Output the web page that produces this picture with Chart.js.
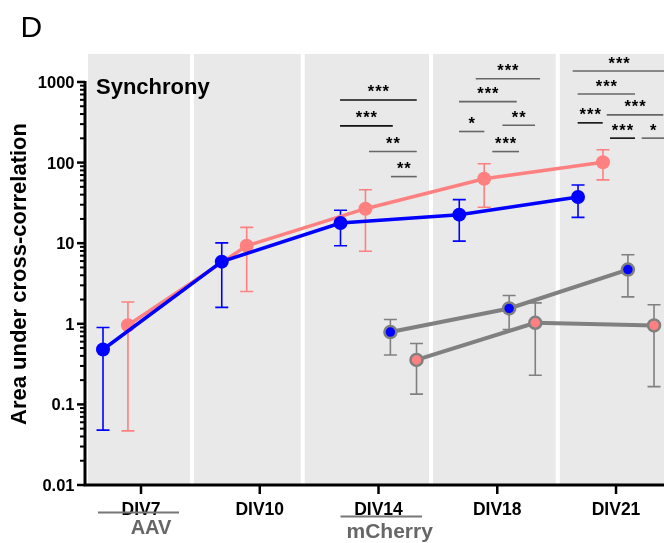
<!DOCTYPE html>
<html>
<head>
<meta charset="utf-8">
<script src="https://cdn.jsdelivr.net/npm/chart.js@4.4.1/dist/chart.umd.min.js"></script>
<style>
  html, body { margin: 0; padding: 0; background: #fff; }
  canvas { display: block; }
</style>
</head>
<body>
<canvas id="myChart" width="664" height="543"></canvas>
<script>
// categories and tick labels
const categories = ['DIV7', 'DIV10', 'DIV14', 'DIV18', 'DIV21'];
const yTicks = [0.01, 0.1, 1, 10, 100, 1000];
const yTickLabels = ['0.01', '0.1', '1', '10', '100', '1000'];

// AAV, blue
const aavBlue   = [0.48, 5.9, 17.8, 22.6, 37.4];
const aavBlueLo = [0.048, 1.6, 9.3, 10.6, 20.9];
const aavBlueHi = [0.9, 10.1, 25.6, 34.7, 52.6];
// AAV, pink
const aavPink   = [0.96, 9.3, 26.8, 63, 101];
const aavPinkLo = [0.047, 2.52, 7.96, 27.9, 61];
const aavPinkHi = [1.86, 15.7, 46, 96.6, 144];
// mCherry, blue
const mchBlue   = [null, null, 0.79, 1.55, 4.7];
const mchBlueLo = [null, null, 0.41, 0.85, 2.16];
const mchBlueHi = [null, null, 1.13, 2.24, 7.2];
// mCherry, pink
const mchPink   = [null, null, 0.356, 1.03, 0.955];
const mchPinkLo = [null, null, 0.134, 0.23, 0.166];
const mchPinkHi = [null, null, 0.57, 1.82, 1.72];

// significance brackets (x in category units, y in data units)
const sigMarks = [
  { from: 1.676, to: 2.322, y: 598, text: '***', dark: true },
  { from: 1.676, to: 2.120, y: 285, text: '***', dark: true },
  { from: 1.920, to: 2.322, y: 137, text: '**', dark: false },
  { from: 2.105, to: 2.322, y: 67, text: '**', dark: false },
  { from: 2.819, to: 3.360, y: 1099, text: '***', dark: false },
  { from: 2.678, to: 3.164, y: 570, text: '***', dark: false },
  { from: 2.678, to: 2.891, y: 243, text: '*', dark: false },
  { from: 3.043, to: 3.318, y: 291, text: '**', dark: false },
  { from: 2.958, to: 3.183, y: 137, text: '***', dark: false },
  { from: 3.635, to: 4.417, y: 1368, text: '***', dark: false },
  { from: 3.677, to: 4.160, y: 709, text: '***', dark: false },
  { from: 3.677, to: 3.888, y: 311, text: '***', dark: true },
  { from: 3.922, to: 4.398, y: 391, text: '***', dark: false },
  { from: 3.949, to: 4.160, y: 201, text: '***', dark: true },
  { from: 4.216, to: 4.410, y: 201, text: '*', dark: false }
];

const offsets = [-0.32, -0.11, 0.10, 0.32];
const bandGaps = [0.429, 1.362, 2.442, 3.509];
const BLUE = '#0000ff', PINK = '#ff8080', GREY = '#808080';

const series = [
  { vals: mchBlue, lo: mchBlueLo, hi: mchBlueHi, off: offsets[2], err: GREY },
  { vals: mchPink, lo: mchPinkLo, hi: mchPinkHi, off: offsets[3], err: GREY },
  { vals: aavBlue, lo: aavBlueLo, hi: aavBlueHi, off: offsets[0], err: BLUE },
  { vals: aavPink, lo: aavPinkLo, hi: aavPinkHi, off: offsets[1], err: PINK }
];

function pts(vals, off) {
  return vals.map((v, i) => ({ x: i + off, y: v })).filter(p => p.y !== null);
}

const FONT = '"Liberation Sans", Arial, sans-serif';

const decor = {
  id: 'decor',
  beforeDraw(chart) {
    const { ctx, chartArea: a, scales: { x } } = chart;
    ctx.save();
    ctx.fillStyle = '#fff';
    ctx.fillRect(0, 0, chart.width, chart.height);
    ctx.fillStyle = '#e9e9e9';
    ctx.fillRect(a.left + 3, a.top, a.right - a.left - 3, a.bottom - a.top);
    ctx.fillStyle = '#fff';
    bandGaps.forEach(g => {
      const px = x.getPixelForValue(g);
      ctx.fillRect(px - 2, a.top, 4, a.bottom - a.top);
    });
    ctx.restore();
  },
  beforeDatasetsDraw(chart) {
    const { ctx, scales: { x, y } } = chart;
    ctx.save();
    ctx.lineWidth = 1.6;
    series.forEach(s => {
      ctx.strokeStyle = s.err;
      s.vals.forEach((v, i) => {
        if (v === null) return;
        const px = x.getPixelForValue(i + s.off);
        const top = y.getPixelForValue(s.hi[i]);
        const bot = y.getPixelForValue(s.lo[i]);
        ctx.beginPath();
        ctx.moveTo(px, top); ctx.lineTo(px, bot);
        ctx.moveTo(px - 6.5, top); ctx.lineTo(px + 6.5, top);
        ctx.moveTo(px - 6.5, bot); ctx.lineTo(px + 6.5, bot);
        ctx.stroke();
      });
    });
    ctx.restore();
  },
  afterDatasetsDraw(chart) {
    const { ctx, chartArea: a, scales: { x, y } } = chart;
    ctx.save();
    ctx.strokeStyle = '#000';
    ctx.fillStyle = '#000';

    // axes
    ctx.lineWidth = 3;
    ctx.beginPath();
    ctx.moveTo(a.left, y.getPixelForValue(1000) - 1);
    ctx.lineTo(a.left, a.bottom + 1.5);
    ctx.moveTo(a.left - 1.5, a.bottom);
    ctx.lineTo(a.right, a.bottom);
    ctx.stroke();

    // y ticks
    for (let d = -2; d < 3; d++) {
      for (let m = 2; m < 10; m++) {
        const py = y.getPixelForValue(m * Math.pow(10, d));
        ctx.lineWidth = 2;
        ctx.beginPath(); ctx.moveTo(a.left - 5, py); ctx.lineTo(a.left, py); ctx.stroke();
      }
    }
    ctx.font = 'bold 16.5px ' + FONT;
    ctx.textAlign = 'right';
    ctx.textBaseline = 'alphabetic';
    yTicks.forEach((t, i) => {
      const py = y.getPixelForValue(t);
      ctx.lineWidth = 2.5;
      ctx.beginPath(); ctx.moveTo(a.left - 8, py); ctx.lineTo(a.left, py); ctx.stroke();
      ctx.fillText(yTickLabels[i], 74.5, py + 6);
    });

    // x ticks
    ctx.font = 'bold 17.5px ' + FONT;
    ctx.textAlign = 'center';
    categories.forEach((c, i) => {
      const px = x.getPixelForValue(i);
      ctx.lineWidth = 2.5;
      ctx.beginPath(); ctx.moveTo(px, a.bottom); ctx.lineTo(px, a.bottom + 9); ctx.stroke();
      ctx.fillText(c, px, 515);
    });

    // AAV / mCherry labels under the axis
    ctx.strokeStyle = '#777';
    ctx.lineWidth = 2;
    const p0 = x.getPixelForValue(0), p2 = x.getPixelForValue(2);
    ctx.beginPath();
    ctx.moveTo(p0 - 43, 512.5); ctx.lineTo(p0 + 38, 512.5);
    ctx.moveTo(p2 - 38, 516.5); ctx.lineTo(p2 + 43.5, 516.5);
    ctx.stroke();
    ctx.fillStyle = '#666';
    ctx.font = 'bold 20px ' + FONT;
    ctx.fillText('AAV', p0 + 10, 533.5);
    ctx.font = 'bold 21px ' + FONT;
    ctx.textAlign = 'left';
    ctx.fillText('mCherry', p2 - 32, 537.5);

    // significance brackets
    ctx.textAlign = 'center';
    ctx.font = 'bold 16.5px ' + FONT;
    ctx.letterSpacing = '1px';
    sigMarks.forEach(s => {
      const x1 = x.getPixelForValue(s.from), x2 = x.getPixelForValue(s.to);
      const py = y.getPixelForValue(s.y);
      ctx.strokeStyle = s.dark ? '#111' : '#666';
      ctx.lineWidth = 1.6;
      ctx.beginPath(); ctx.moveTo(x1, py); ctx.lineTo(x2, py); ctx.stroke();
      ctx.fillStyle = '#000';
      ctx.fillText(s.text, (x1 + x2) / 2 + 0.5, py - 2.5);
    });
    ctx.letterSpacing = '0px';

    // titles
    ctx.fillStyle = '#000';
    ctx.textAlign = 'left';
    ctx.font = '30px ' + FONT;
    ctx.fillText('D', 20.5, 37);
    ctx.font = 'bold 22px ' + FONT;
    ctx.fillText('Synchrony', 96, 94);

    ctx.translate(25.5, 274);
    ctx.rotate(-Math.PI / 2);
    ctx.textAlign = 'center';
    ctx.fillText('Area under cross-correlation', 0, 0);
    ctx.restore();
  }
};

new Chart(document.getElementById('myChart'), {
  type: 'line',
  data: {
    datasets: [
      {
        data: pts(mchBlue, offsets[2]),
        borderColor: GREY, borderWidth: 4,
        pointRadius: 6, pointBackgroundColor: BLUE,
        pointBorderColor: GREY, pointBorderWidth: 2.5
      },
      {
        data: pts(mchPink, offsets[3]),
        borderColor: GREY, borderWidth: 4,
        pointRadius: 6, pointBackgroundColor: PINK,
        pointBorderColor: GREY, pointBorderWidth: 2.5
      },
      {
        data: pts(aavBlue, offsets[0]),
        borderColor: BLUE, borderWidth: 3.5,
        pointRadius: 7, pointBackgroundColor: BLUE,
        pointBorderColor: BLUE, pointBorderWidth: 0
      },
      {
        data: pts(aavPink, offsets[1]),
        borderColor: PINK, borderWidth: 3.5,
        pointRadius: 7, pointBackgroundColor: PINK,
        pointBorderColor: PINK, pointBorderWidth: 0
      }
    ]
  },
  options: {
    responsive: false,
    animation: false,
    layout: { autoPadding: false, padding: { left: 85, right: 0, top: 54, bottom: 58 } },
    elements: { line: { tension: 0 } },
    plugins: {
      legend: { display: false },
      tooltip: { enabled: false }
    },
    scales: {
      x: { type: 'linear', min: -0.4716, max: 4.404, display: false },
      y: { type: 'logarithmic', min: 0.01, max: 2224, display: false }
    }
  },
  plugins: [decor]
});
</script>
</body>
</html>
